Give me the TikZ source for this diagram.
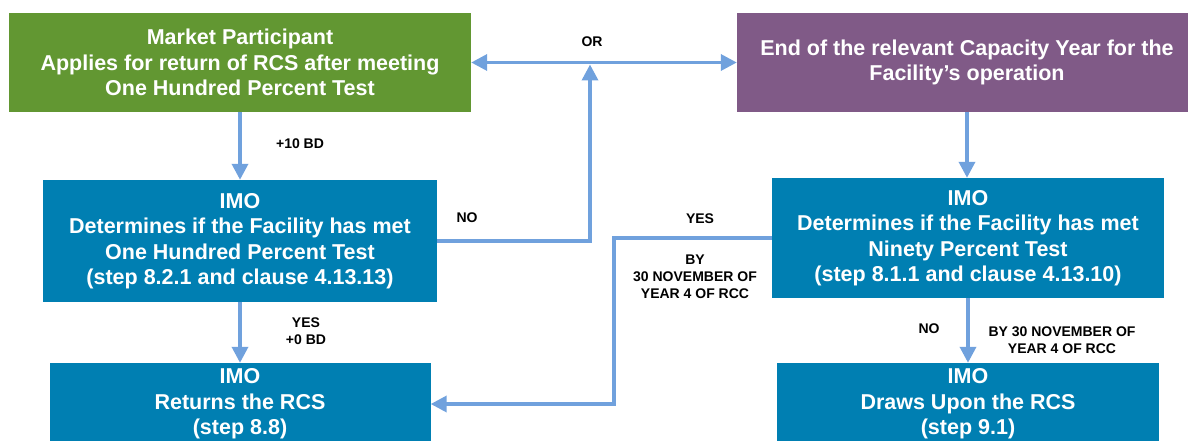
\documentclass[tikz,border=0pt]{standalone}
\usepackage{fontspec}
\setmainfont{Liberation Sans}
\usetikzlibrary{arrows.meta}

\definecolor{mpgreen}{RGB}{98,151,50}
\definecolor{eoypurple}{RGB}{128,90,135}
\definecolor{imoblue}{RGB}{0,127,178}
\definecolor{flowblue}{RGB}{112,161,221}

\tikzset{
	box/.style={fill=#1, text=white, font=\bfseries\fontsize{21.5}{25.5}\selectfont, align=center, inner sep=0pt},
	lbl/.style={font=\bfseries\fontsize{14}{17}\selectfont, align=center, inner sep=0pt},
	flow/.style={line width=3.5pt, draw=flowblue, -{Triangle[width=16pt,length=16pt]}},
	both/.style={line width=3.5pt, draw=flowblue, {Triangle[width=16pt,length=16pt]}-{Triangle[width=16pt,length=16pt]}}
}

\begin{document}
\begin{tikzpicture}[x=1pt,y=-1pt]
	\useasboundingbox (0,0) rectangle (1188,441);

	% top row
	\node[box=mpgreen, minimum width=462pt, minimum height=99pt] (mp) at (240,62.5) {Market Participant\\Applies for return of RCS after meeting\\One Hundred Percent Test};
	\node[box=eoypurple, minimum width=460pt, minimum height=99pt] (eoy) at (967,62.5) {End of the relevant Capacity Year for the\\Facility’s operation};

	% checks
	\node[box=imoblue, minimum width=394pt, minimum height=122pt] (chk100) at (240,241) {IMO\\Determines if the Facility has met\\One Hundred Percent Test\\(step 8.2.1 and clause 4.13.13)};
	\node[box=imoblue, minimum width=392pt, minimum height=120pt] (chk90) at (968,238) {IMO\\Determines if the Facility has met\\Ninety Percent Test\\(step 8.1.1 and clause 4.13.10)};

	% outcomes
	\node[box=imoblue, minimum width=381pt, minimum height=82pt] (ret) at (240,404) {IMO\\Returns the RCS\\(step 8.8)};
	\node[box=imoblue, minimum width=382pt, minimum height=82pt] (drw) at (968,404) {IMO\\Draws Upon the RCS\\(step 9.1)};

	% label
	\node[lbl] (lten) at (300,144) {+10 BD};
	\node[lbl] (lor) at (592,42) {OR};
	\node[lbl] (lnoa) at (467,218) {NO};
	\node[lbl] (lyesa) at (700,219) {YES};
	\node[lbl] (lbya) at (695,277) {BY\\30 NOVEMBER OF\\YEAR 4 OF RCC};
	\node[lbl] (lyesb) at (306,331.5) {YES\\+0 BD};
	\node[lbl] (lnob) at (929,329) {NO};
	\node[lbl] (lbyb) at (1062,340) {BY 30 NOVEMBER OF\\YEAR 4 OF RCC};

	% arrows
	\coordinate (orjoin) at (590,64.5);
	\coordinate (yesbend) at (614,238);
	\draw[flow] (mp.south) -- (chk100.north);
	\draw[flow] (chk100.south) -- (ret.north);
	\draw[flow] (eoy.south) -- (eoy.south |- chk90.north);
	\draw[flow] (chk90.south) -- (drw.north);
	\draw[both] (mp.east) -- (eoy.west);
	\draw[flow] (chk100.east) -| (orjoin);
	\draw[flow] (chk90.west) -- (yesbend) |- (ret.east);
\end{tikzpicture}
\end{document}
